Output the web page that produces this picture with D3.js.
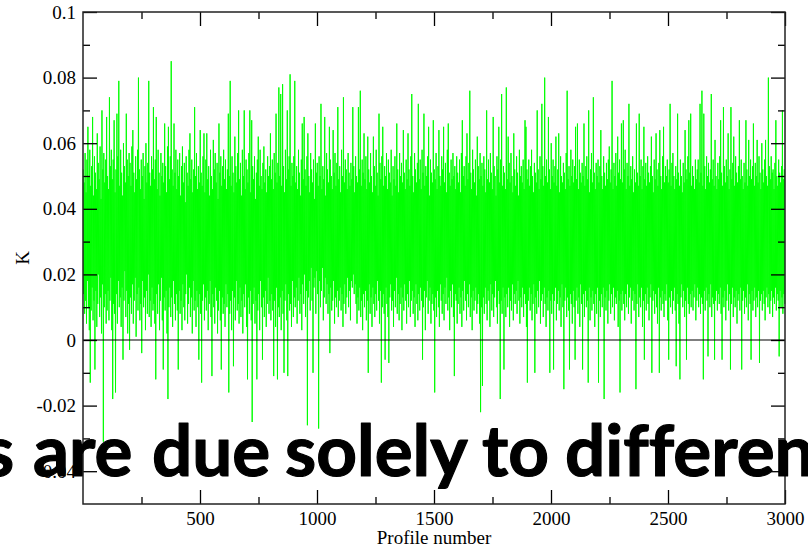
<!DOCTYPE html>
<html><head><meta charset="utf-8">
<script src="https://cdn.jsdelivr.net/npm/d3@7"></script>
<style>html,body{margin:0;padding:0;background:#fff}svg{display:block}</style>
</head><body>
<svg id="chart" width="808" height="548"></svg>
<script>
// K values (in thousandths), at profiles 1,3,5,...,2999
const kThousandths = [
52,14,48,8,57,12,45,5,55,18,65,10,50,3,58,-13,47,9,53,16,68,6,44,12,56,-9,51,15,46,4,63,11,54,20,49,7,59,13,43,2,70,17,52,-31,57,10,48,14,55,5,
68,9,50,15,46,6,74,12,53,19,58,3,49,-18,55,11,67,8,45,-16,52,14,69,5,56,18,79,10,47,13,58,4,51,16,44,-6,60,12,53,21,48,7,69,15,55,2,50,11,57,-3,
54,13,47,8,59,17,64,5,51,12,45,19,56,1,49,14,58,9,80,16,52,6,46,11,55,-4,50,18,57,10,43,13,53,3,60,15,48,8,54,20,79,7,51,12,47,4,56,16,52,9,
71,11,49,5,55,-12,68,14,46,8,58,17,51,3,44,12,57,19,50,6,54,-9,48,13,66,9,53,15,45,2,59,-18,65,10,49,16,56,7,85,13,52,4,47,18,66,11,51,6,58,14,
46,9,55,-9,50,15,57,8,44,12,53,3,59,17,48,10,54,6,42,14,56,20,51,5,47,11,58,16,63,7,49,13,55,2,45,18,52,9,71,12,50,4,57,15,46,10,53,-6,48,14,
64,8,51,-13,47,12,56,17,63,6,45,13,55,9,63,15,49,3,53,11,44,18,58,7,50,-11,46,14,61,10,52,5,57,16,48,12,54,2,43,9,66,15,51,6,56,-9,47,13,53,8,
58,11,49,4,55,17,46,10,52,14,69,-16,50,8,79,12,47,3,56,15,51,-8,45,13,62,6,53,18,48,9,57,11,70,5,49,16,54,7,44,12,58,2,50,14,70,10,46,17,55,4,
52,-12,48,13,57,8,70,15,45,6,67,-25,53,11,49,16,56,5,43,12,51,-12,55,9,62,14,47,3,58,18,50,10,46,-6,54,13,59,7,48,15,52,4,45,11,56,19,50,8,53,12,
63,6,49,14,55,9,46,-11,57,12,51,4,69,16,48,-12,54,10,77,7,50,13,75,3,47,15,78,8,53,-10,45,12,58,17,49,6,70,-11,52,14,56,9,81,11,47,4,54,18,50,7,
56,13,79,10,48,16,53,5,46,12,58,19,51,8,44,14,55,3,66,17,49,11,68,20,52,7,47,15,56,-26,63,13,50,18,45,9,57,22,52,12,48,-10,55,16,43,19,66,8,51,21,
54,14,47,-27,56,18,50,10,72,15,46,22,53,6,49,13,68,19,44,11,57,17,52,8,48,14,65,-4,55,16,50,9,46,12,64,18,51,5,57,13,47,10,54,15,71,7,49,12,53,16,
45,9,58,14,50,4,74,11,48,17,55,8,52,13,46,19,57,10,51,15,47,6,54,18,49,16,71,20,53,14,45,17,56,11,50,5,48,13,71,9,52,16,76,7,47,12,55,3,51,14,
63,10,49,15,56,6,46,12,62,-10,52,17,48,8,57,13,50,4,45,16,62,11,53,7,47,14,58,9,51,18,44,12,69,5,54,15,49,-13,56,10,65,14,47,8,53,-6,50,16,57,11,
46,7,55,-7,51,13,48,17,58,9,44,12,53,4,49,15,56,10,47,19,66,8,52,14,45,6,57,11,50,16,54,3,48,13,64,9,51,17,46,12,55,5,49,14,63,10,52,18,47,7,
56,12,75,15,50,8,45,13,57,4,52,17,48,11,54,6,72,14,49,9,55,16,46,12,58,-6,51,10,69,15,47,3,53,13,50,18,56,8,65,12,44,16,55,5,51,11,48,14,67,9,
52,-16,49,13,57,7,46,15,53,10,64,4,50,17,47,12,56,8,52,14,65,6,48,16,54,11,45,19,58,9,66,13,51,3,47,15,55,10,49,17,57,7,50,-11,53,14,46,12,56,5,
51,11,48,16,55,8,45,13,57,4,67,15,50,9,53,18,47,12,56,6,63,14,49,10,54,17,76,7,51,13,46,3,58,15,52,9,48,12,55,16,44,8,62,11,53,14,49,5,57,-22,
50,10,54,-14,47,13,56,8,52,16,45,11,70,6,49,15,55,12,48,4,57,17,51,9,46,14,68,7,53,13,50,18,44,10,56,5,52,15,65,11,48,-18,55,12,75,8,47,16,53,-9,
51,13,46,7,77,14,49,10,62,16,54,4,48,12,57,9,50,17,45,6,63,14,52,11,47,15,56,8,51,18,44,12,58,5,50,13,53,10,48,16,55,7,46,14,67,11,65,4,52,-13,
49,12,55,16,47,9,53,14,58,6,50,11,45,17,54,-10,51,13,48,8,70,15,52,10,46,18,56,5,49,12,72,14,53,7,47,16,80,11,50,4,55,13,48,9,68,15,52,-10,46,12,
60,8,50,14,55,-9,48,12,53,16,62,6,47,11,52,15,63,9,45,13,56,4,50,17,48,10,54,-15,51,12,46,16,57,7,76,13,49,9,53,-9,47,14,58,11,50,5,55,15,48,10,
53,-6,65,12,49,16,66,8,46,13,55,4,51,17,48,11,54,-9,50,14,66,7,47,15,53,10,56,12,49,-13,70,16,45,6,52,13,57,9,48,15,74,11,51,4,46,14,54,8,50,16,
55,-13,48,12,53,7,64,14,50,10,46,16,56,-18,51,13,47,9,54,15,49,5,55,12,59,17,48,8,52,14,79,10,46,16,54,6,50,13,57,11,47,15,62,4,51,12,55,-16,49,14,
66,9,48,15,67,11,52,6,58,14,46,10,54,17,50,8,72,13,47,16,53,5,49,12,56,15,45,9,52,14,48,-15,66,11,51,17,47,7,69,13,50,10,55,16,46,4,53,12,65,-6,
49,14,54,9,47,16,56,11,51,6,48,13,53,17,62,-10,50,12,45,15,55,8,49,14,63,10,52,5,47,16,54,-10,64,13,50,9,46,15,56,11,65,7,48,14,53,12,50,17,55,6,
48,-6,52,13,72,10,47,15,54,8,57,12,50,16,46,9,53,-8,49,14,69,11,51,5,47,-12,55,13,50,17,45,10,54,15,48,7,64,12,52,-6,49,16,56,11,67,8,51,14,69,10,
47,15,53,9,50,13,46,17,55,6,49,12,52,16,55,10,48,14,72,8,51,13,76,11,47,-12,69,15,53,9,46,16,56,12,50,-5,54,14,48,10,52,17,75,7,49,13,55,11,47,-6,
61,12,50,15,46,9,54,14,49,11,56,16,67,8,51,-6,47,13,71,10,53,15,48,6,55,12,50,17,63,9,46,14,52,-9,71,11,49,16,54,7,62,13,47,10,56,15,51,5,48,12,
53,14,67,9,49,16,55,-9,50,12,46,15,54,8,48,13,67,10,52,17,47,6,61,14,50,11,55,-6,49,15,53,9,66,12,47,16,54,7,50,13,61,10,48,15,56,-7,51,12,46,14,
60,9,52,15,48,11,55,6,61,13,50,16,47,10,80,14,53,8,49,12,56,15,51,7,52,13,46,11,54,16,67,9,50,14,47,12,55,-5,51,15,48,10,53,13,70,8,49,14,52,11
];
const profiles = kThousandths.map((_, i) => 2 * i + 1);
const xMajorTicks = [500, 1000, 1500, 2000, 2500, 3000];
const xMinorTicks = [250, 750, 1250, 1750, 2250, 2750];
const yMajorTicks = [-0.04, -0.02, 0, 0.02, 0.04, 0.06, 0.08, 0.1];
const yTickLabels = ["-0.04", "-0.02", "0", "0.02", "0.04", "0.06", "0.08", "0.1"];
const yMinorTicks = [-0.03, -0.01, 0.01, 0.03, 0.05, 0.07, 0.09];
const xTitle = "Profile number";
const yTitle = "K";
const overlayWords = ["s", "are", "due", "solely", "to", "differen"];

const svg = d3.select("#chart");
const L = 83, R = 785, T = 12, B = 504;
const x = d3.scaleLinear().domain([0, 3000]).range([L, R]);
const y = d3.scaleLinear().domain([-0.05, 0.1]).range([B, T]);
const serif = "'Liberation Serif', 'Times New Roman', serif";

const data = kThousandths.map((v, i) => ({p: profiles[i], k: v / 1000}));

// green series
svg.append("path").datum(data)
  .attr("fill", "none").attr("stroke", "#00ff00").attr("stroke-width", 1)
  .attr("d", d3.line().x(d => x(d.p)).y(d => y(d.k)));

// zero line
svg.append("line").attr("x1", L).attr("x2", R).attr("y1", y(0)).attr("y2", y(0))
  .attr("stroke", "#000").attr("stroke-width", 1.2);

function styleAxis(g) {
  g.select(".domain").remove();
  g.selectAll(".tick line").attr("stroke", "#000").attr("stroke-width", 1.3);
  g.selectAll("text").attr("font-family", serif).attr("font-size", 19).attr("fill", "#000");
}

// bottom
svg.append("g").attr("transform", `translate(0,${B})`)
  .call(d3.axisBottom(x).tickValues(xMajorTicks).tickSize(-14).tickPadding(8).tickFormat(d3.format("d")))
  .call(styleAxis).call(g => g.selectAll("text").attr("y", 8));
svg.append("g").attr("transform", `translate(0,${B})`)
  .call(d3.axisBottom(x).tickValues(xMinorTicks).tickSize(-7).tickFormat(""))
  .call(styleAxis);
// top
svg.append("g").attr("transform", `translate(0,${T})`)
  .call(d3.axisTop(x).tickValues(xMajorTicks).tickSize(-14).tickFormat(""))
  .call(styleAxis);
svg.append("g").attr("transform", `translate(0,${T})`)
  .call(d3.axisTop(x).tickValues(xMinorTicks).tickSize(-7).tickFormat(""))
  .call(styleAxis);
// left
svg.append("g").attr("transform", `translate(${L},0)`)
  .call(d3.axisLeft(y).tickValues(yMajorTicks).tickSize(-14).tickPadding(7)
    .tickFormat((d, i) => yTickLabels[i]))
  .call(styleAxis);
svg.append("g").attr("transform", `translate(${L},0)`)
  .call(d3.axisLeft(y).tickValues(yMinorTicks).tickSize(-7).tickFormat(""))
  .call(styleAxis);
// right
svg.append("g").attr("transform", `translate(${R},0)`)
  .call(d3.axisRight(y).tickValues(yMajorTicks).tickSize(-14).tickFormat(""))
  .call(styleAxis);
svg.append("g").attr("transform", `translate(${R},0)`)
  .call(d3.axisRight(y).tickValues(yMinorTicks).tickSize(-7).tickFormat(""))
  .call(styleAxis);

// frame
svg.append("rect").attr("x", L).attr("y", T).attr("width", R - L).attr("height", B - T)
  .attr("fill", "none").attr("stroke", "#222").attr("stroke-width", 1.5);

// titles
svg.append("text").attr("x", (L + R) / 2).attr("y", 544).attr("text-anchor", "middle")
  .attr("font-family", serif).attr("font-size", 19).text(xTitle);
svg.append("text").attr("transform", `translate(29,${(T + B) / 2}) rotate(-90)`)
  .attr("text-anchor", "middle").attr("font-family", serif).attr("font-size", 19).text(yTitle);

// overlay slide text (Calibri-like bold), word by word
const wordLeft = [-17, 33, 152, 285, 482, 565];
const ov = svg.append("text").attr("x", 0).attr("y", 476)
  .attr("font-family", "Lato, 'Open Sans', 'Noto Sans', sans-serif")
  .attr("font-weight", 700).attr("font-size", 71).attr("fill", "#000")
  .attr("stroke", "#000").attr("stroke-width", 1.2).attr("stroke-linejoin", "round")
  .style("font-variant-ligatures", "none");
overlayWords.forEach((w, i) => {
  ov.append("tspan").attr("x", wordLeft[i]).text(w + (i < overlayWords.length - 1 ? " " : ""));
});
</script>
</body></html>
